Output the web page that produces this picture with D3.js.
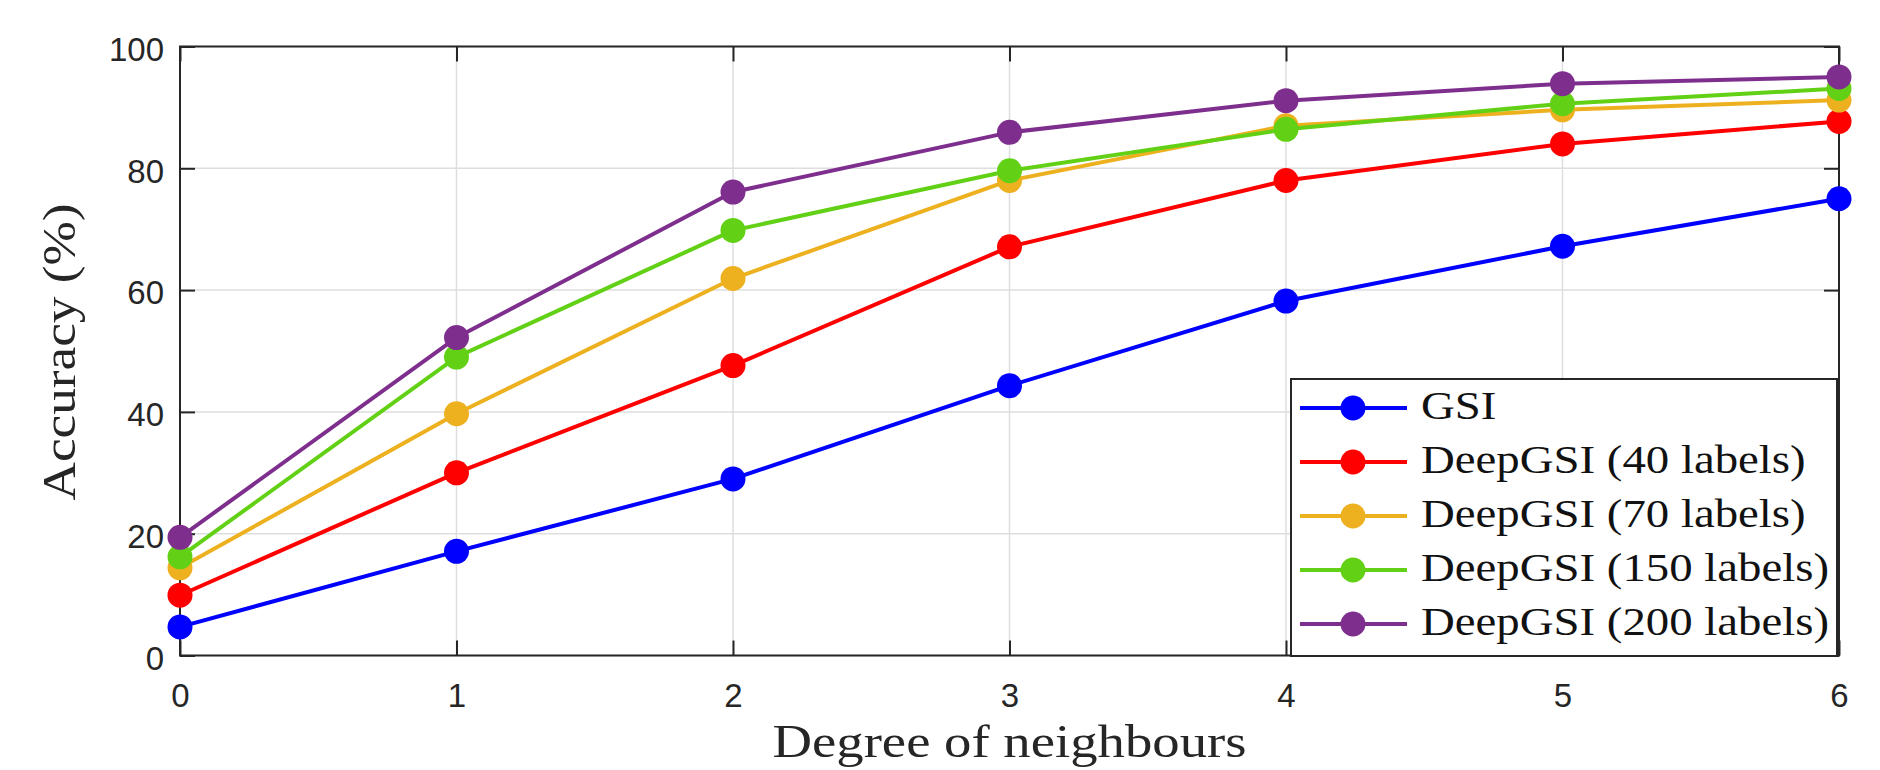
<!DOCTYPE html>
<html>
<head>
<meta charset="utf-8">
<script src="https://cdn.jsdelivr.net/npm/d3@7"></script>
<style>
  html, body { margin: 0; padding: 0; background: #fff; }
  svg { display: block; }
</style>
</head>
<body>
<svg id="chart" width="1880" height="770"></svg>
<script>
// ---------- data ----------
const degrees = [0, 1, 2, 3, 4, 5, 6];
const yTicks = [0, 20, 40, 60, 80, 100];
const seriesNames = ["GSI", "DeepGSI (40 labels)", "DeepGSI (70 labels)", "DeepGSI (150 labels)", "DeepGSI (200 labels)"];
const gsi        = [4.7, 17.1, 29.0, 44.3, 58.2, 67.2, 75.0];
const deep40     = [9.9, 30.0, 47.6, 67.1, 78.0, 84.0, 87.7];
const deep70     = [14.4, 39.7, 61.9, 78.0, 87.0, 89.6, 91.2];
const deep150    = [16.2, 49.0, 69.8, 79.6, 86.4, 90.6, 93.1];
const deep200    = [19.4, 52.2, 76.1, 85.9, 91.1, 93.9, 95.0];
const seriesValues = [gsi, deep40, deep70, deep150, deep200];
const seriesColors = ["#0000FF", "#FF0000", "#EDB120", "#62D116", "#7E2F8E"];
const xLabel = "Degree of neighbours";
const yLabel = "Accuracy (%)";

// ---------- layout ----------
const L = 180, R = 1839, T = 46.5, B = 655.5;
const svg = d3.select("#chart");
svg.append("rect").attr("width", 1880).attr("height", 770).attr("fill", "#fff");

const x = d3.scaleLinear().domain([0, 6]).range([L, R]);
const y = d3.scaleLinear().domain([0, 100]).range([B, T]);

const axisColor = "#262626";
const gridColor = "#dedede";

// grid
const grid = svg.append("g");
grid.selectAll(".gx").data(degrees).join("line")
  .attr("x1", d => x(d)).attr("x2", d => x(d))
  .attr("y1", T).attr("y2", B)
  .attr("stroke", gridColor).attr("stroke-width", 1.5);
grid.selectAll(".gy").data(yTicks).join("line")
  .attr("x1", L).attr("x2", R)
  .attr("y1", d => y(d)).attr("y2", d => y(d))
  .attr("stroke", gridColor).attr("stroke-width", 1.5);

// axes
function styleAxis(g, hideText) {
  g.select(".domain").remove();
  g.selectAll(".tick line").attr("stroke", axisColor).attr("stroke-width", 2);
  g.selectAll(".tick text")
    .attr("fill", axisColor)
    .style("font-family", "'Liberation Sans', Arial, sans-serif")
    .style("font-size", "33px");
  if (hideText) g.selectAll(".tick text").remove();
}
svg.append("g").attr("transform", `translate(${L},0)`)
  .call(d3.axisLeft(y).tickValues(yTicks).tickSize(-15).tickPadding(16).tickFormat(d3.format("d")))
  .call(g => styleAxis(g, false))
  .call(g => g.selectAll(".tick text").attr("dy", "0.42em"));
svg.append("g").attr("transform", `translate(0,${B})`)
  .call(d3.axisBottom(x).tickValues(degrees).tickSize(-15).tickPadding(28).tickFormat(d3.format("d")))
  .call(g => styleAxis(g, false));
svg.append("g").attr("transform", `translate(0,${T})`)
  .call(d3.axisTop(x).tickValues(degrees).tickSize(-15))
  .call(g => styleAxis(g, true));
svg.append("g").attr("transform", `translate(${R},0)`)
  .call(d3.axisRight(y).tickValues(yTicks).tickSize(-15))
  .call(g => styleAxis(g, true));

// box
svg.append("rect").attr("x", L).attr("y", T).attr("width", R - L).attr("height", B - T)
  .attr("fill", "none").attr("stroke", axisColor).attr("stroke-width", 2);

// series
const line = d3.line().x((d, i) => x(degrees[i])).y(d => y(d));
seriesValues.forEach((vals, si) => {
  const g = svg.append("g");
  g.append("path").datum(vals).attr("d", line)
    .attr("fill", "none").attr("stroke", seriesColors[si]).attr("stroke-width", 4)
    .attr("stroke-linejoin", "round");
  g.selectAll("circle").data(vals).join("circle")
    .attr("cx", (d, i) => x(degrees[i])).attr("cy", d => y(d)).attr("r", 12.5)
    .attr("fill", seriesColors[si]);
});

// axis labels
const serif = "'Liberation Serif', 'Times New Roman', serif";
svg.append("text")
  .attr("x", (L + R) / 2 - 0).attr("y", 757)
  .attr("text-anchor", "middle")
  .attr("textLength", 474).attr("lengthAdjust", "spacingAndGlyphs")
  .style("font-family", serif).style("font-size", "46px").attr("fill", axisColor)
  .text(xLabel);
svg.append("text")
  .attr("transform", "translate(75,352) rotate(-90)")
  .attr("text-anchor", "middle")
  .attr("textLength", 297).attr("lengthAdjust", "spacingAndGlyphs")
  .style("font-family", serif).style("font-size", "46px").attr("fill", axisColor)
  .text(yLabel);

// legend
const lg = svg.append("g");
lg.append("rect").attr("x", 1291).attr("y", 379).attr("width", 1837 - 1291).attr("height", 656 - 379)
  .attr("fill", "#fff").attr("stroke", axisColor).attr("stroke-width", 2);
const rowY = i => 408 + 54 * i;
const texts = [];
seriesNames.forEach((name, i) => {
  lg.append("line").attr("x1", 1300).attr("x2", 1407).attr("y1", rowY(i)).attr("y2", rowY(i))
    .attr("stroke", seriesColors[i]).attr("stroke-width", 4);
  lg.append("circle").attr("cx", 1353).attr("cy", rowY(i)).attr("r", 12.5).attr("fill", seriesColors[i]);
  const t = lg.append("text").attr("x", 1421).attr("y", rowY(i) + 11)
    .style("font-family", serif).style("font-size", "40px").attr("fill", "#111")
    .text(name);
  texts.push(t);
});
// stretch legend texts so the longest one matches the reference width
const longest = texts[texts.length - 1].node().getComputedTextLength();
const k = 408 / longest;
texts.forEach(t => {
  const w = t.node().getComputedTextLength();
  t.attr("textLength", w * k).attr("lengthAdjust", "spacingAndGlyphs");
});
</script>
</body>
</html>
